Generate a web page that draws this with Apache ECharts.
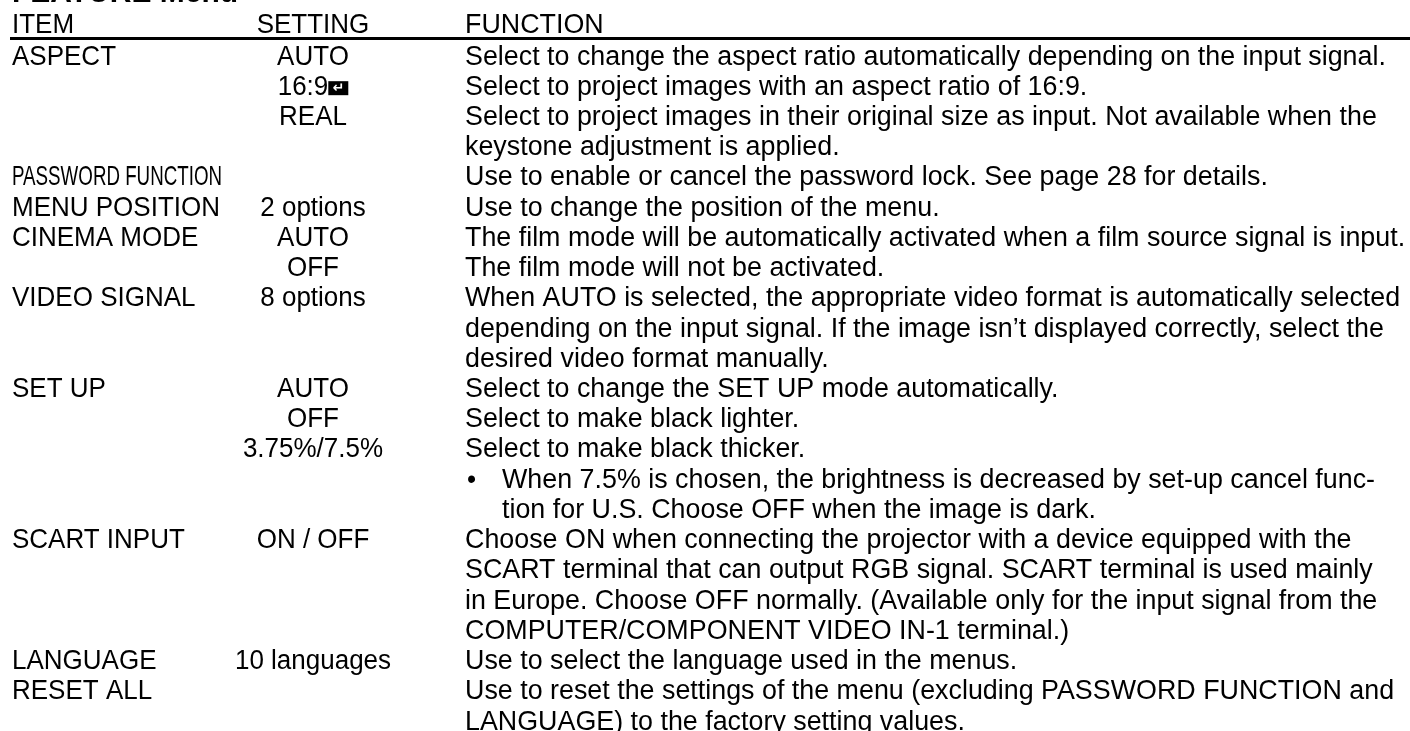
<!DOCTYPE html>
<html><head><meta charset="utf-8">
<script src="https://cdn.jsdelivr.net/npm/echarts@6/dist/echarts.min.js"></script>
<style>html,body{margin:0;padding:0;background:#fff;overflow:hidden}#c{width:1410px;height:731px}</style>
</head><body><div id="c"></div>
<script>
// ---------- content ----------
const titleText = 'FEATURE Menu';
const headers = ['ITEM', 'SETTING', 'FUNCTION'];
const items = [
  [0, 'ASPECT'], [4, 'PASSWORD FUNCTION'], [5, 'MENU POSITION'], [6, 'CINEMA MODE'],
  [8, 'VIDEO SIGNAL'], [11, 'SET UP'], [16, 'SCART INPUT'], [20, 'LANGUAGE'], [21, 'RESET ALL']
];
const settings = [
  [0, 'AUTO'], [1, '16:9↵'], [2, 'REAL'], [5, '2 options'], [6, 'AUTO'], [7, 'OFF'],
  [8, '8 options'], [11, 'AUTO'], [12, 'OFF'], [13, '3.75%/7.5%'], [16, 'ON / OFF'], [20, '10 languages']
];
const functions = [
  'Select to change the aspect ratio automatically depending on the input signal.',
  'Select to project images with an aspect ratio of 16:9.',
  'Select to project images in their original size as input. Not available when the',
  'keystone adjustment is applied.',
  'Use to enable or cancel the password lock. See page 28 for details.',
  'Use to change the position of the menu.',
  'The film mode will be automatically activated when a film source signal is input.',
  'The film mode will not be activated.',
  'When AUTO is selected, the appropriate video format is automatically selected',
  'depending on the input signal. If the image isn\u2019t displayed correctly, select the',
  'desired video format manually.',
  'Select to change the SET UP mode automatically.',
  'Select to make black lighter.',
  'Select to make black thicker.',
  '\u2022 When 7.5% is chosen, the brightness is decreased by set-up cancel func-',
  'tion for U.S. Choose OFF when the image is dark.',
  'Choose ON when connecting the projector with a device equipped with the',
  'SCART terminal that can output RGB signal. SCART terminal is used mainly',
  'in Europe. Choose OFF normally. (Available only for the input signal from the',
  'COMPUTER/COMPONENT VIDEO IN-1 terminal.)',
  'Use to select the language used in the menus.',
  'Use to reset the settings of the menu (excluding PASSWORD FUNCTION and',
  'LANGUAGE) to the factory setting values.'
];
const bulletRows = [14, 15];
const condensedItems = ['PASSWORD FUNCTION'];
const ENTER_MARK = '↵';

// ---------- layout ----------
const FONT = "'Liberation Sans', Arial, Helvetica, sans-serif";
const FS = 26, TITLE_FS = 30, SCALE_Y = 1.06;
const ROW0_Y = 57, ROW_H = 30.25, Y_MIN = -1.8, Y_MAX = 22.3;
const X_ITEM = 12, X_SET = 313, X_FUNC = 465, X_FUNC_INDENT = 502, X_BULLET = 467;
const ROW_TITLE = -2.11, ROW_HEADER = -1.03, ROW_RULE = (38.5 - ROW0_Y) / ROW_H;
const RULE_X0 = 10, RULE_X1 = 1410, RULE_W = 3;
const ICON_W = 20, ICON_H = 14, ICON_DY = -6;

const mctx = document.createElement('canvas').getContext('2d');
mctx.font = FS + 'px ' + FONT;
const S0 = 932 / mctx.measureText(functions[0]).width;
const S6 = 934 / mctx.measureText(functions[6]).width;
const FUNC_SCALE = 0.35 * S0 + 0.65 * S6;
const ITEM_SCALE = 210 / mctx.measureText('PASSWORD FUNCTION').width;

// ---------- cells ----------
const cells = [];
cells.push({x: X_ITEM, row: ROW_TITLE, text: titleText, align: 'left', bold: true, fs: TITLE_FS});
cells.push({x: X_ITEM, row: ROW_HEADER, text: headers[0], align: 'left'});
cells.push({x: X_SET, row: ROW_HEADER, text: headers[1], align: 'center'});
cells.push({x: X_FUNC, row: ROW_HEADER, text: headers[2], align: 'left', sx: FUNC_SCALE});
items.forEach(([r, t]) => cells.push({x: X_ITEM, row: r, text: t, align: 'left',
  sx: condensedItems.includes(t) ? ITEM_SCALE : 1}));
settings.forEach(([r, t]) => cells.push({x: X_SET, row: r, text: t, align: 'center'}));
functions.forEach((t, r) => {
  let txt = t, x = X_FUNC;
  if (bulletRows.includes(r)) {
    x = X_FUNC_INDENT;
    if (txt.startsWith('\u2022')) {
      cells.push({x: X_BULLET, row: r, text: '\u2022', align: 'left'});
      txt = txt.slice(1).trim();
    }
  }
  cells.push({x: x, row: r, text: txt, align: 'left', sx: FUNC_SCALE});
});

function textEl(c, text, x, y, align) {
  return {
    type: 'text', x: x, y: y, scaleX: c.sx || 1, scaleY: SCALE_Y,
    style: {
      x: 0, y: 0, text: text, fill: '#000',
      fontSize: c.fs || FS, fontFamily: FONT, fontWeight: c.bold ? 'bold' : 'normal',
      align: align, verticalAlign: 'middle'
    }
  };
}

function renderCell(params, api) {
  const c = cells[api.value(2)];
  const p = api.coord([api.value(0), api.value(1)]);
  if (c.text.indexOf(ENTER_MARK) >= 0) {
    const base = c.text.replace(ENTER_MARK, '');
    const w = mctx.measureText(base).width;
    const left = p[0] - (w + ICON_W) / 2;
    return {
      type: 'group',
      children: [
        textEl(c, base, left, p[1], 'left'),
        {type: 'rect', shape: {x: left + w, y: p[1] + ICON_DY, width: ICON_W, height: ICON_H},
         style: {fill: '#000'}},
        {type: 'text', x: left + w + ICON_W / 2, y: p[1] + ICON_DY + ICON_H / 2,
         style: {x: 0, y: 0, text: ENTER_MARK, fill: '#fff', fontSize: 14, fontWeight: 'bold',
                 fontFamily: "'DejaVu Sans', sans-serif", align: 'center', verticalAlign: 'middle'}}
      ]
    };
  }
  return textEl(c, c.text, p[0], p[1], c.align);
}

function renderRule(params, api) {
  const a = api.coord([api.value(0), api.value(2)]);
  const b = api.coord([api.value(1), api.value(2)]);
  return {type: 'line', shape: {x1: a[0], y1: a[1], x2: b[0], y2: b[1]},
          style: {stroke: '#000', lineWidth: RULE_W}};
}

const chart = echarts.init(document.getElementById('c'), null, {renderer: 'canvas'});
chart.setOption({
  backgroundColor: '#fff',
  animation: false,
  grid: {left: 0, width: 1410, top: ROW0_Y + Y_MIN * ROW_H, height: (Y_MAX - Y_MIN) * ROW_H},
  xAxis: {type: 'value', min: 0, max: 1410, show: false},
  yAxis: {type: 'value', min: Y_MIN, max: Y_MAX, inverse: true, show: false},
  series: [
    {type: 'custom', clip: false, silent: true, renderItem: renderRule,
     data: [[RULE_X0, RULE_X1, ROW_RULE]]},
    {type: 'custom', clip: false, silent: true, renderItem: renderCell,
     data: cells.map((c, i) => [c.x, c.row, i])}
  ]
});
</script></body></html>
